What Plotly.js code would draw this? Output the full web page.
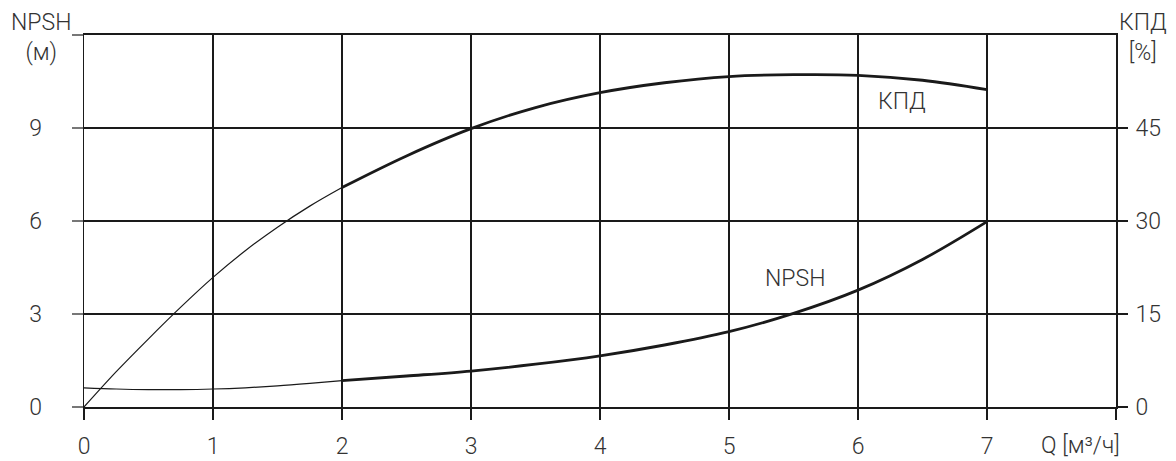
<!DOCTYPE html>
<html>
<head>
<meta charset="utf-8">
<script src="https://cdn.plot.ly/plotly-3.0.1.min.js"></script>
<style>
  html, body { margin: 0; padding: 0; background: #fff; }
  #chart { width: 1176px; height: 461px; }
</style>
</head>
<body>
<div id="chart"></div>
<script>
// Q, m3/h  (thin part of each curve up to Q=2, thick part after)
const qThin = [0, 0.25, 0.5, 0.75, 1, 1.25, 1.5, 1.75, 2];
const qThick = [2, 2.5, 3, 3.5, 4, 4.5, 5, 5.5, 6, 6.5, 7];
// NPSH, m
const npshThin = [0.62, 0.58, 0.56, 0.56, 0.58, 0.62, 0.68, 0.76, 0.85];
const npshThick = [0.85, 1.0, 1.16, 1.38, 1.65, 2.0, 2.43, 3.02, 3.77, 4.76, 5.98];
// КПД, %
const kpdThin = [0, 5.7, 11.0, 16.1, 20.9, 25.2, 29.0, 32.4, 35.4];
const kpdThick = [35.4, 40.5, 44.9, 48.3, 50.7, 52.3, 53.3, 53.6, 53.5, 52.7, 51.2];

const xTicks = [0, 1, 2, 3, 4, 5, 6, 7, 8];
const xLabels = ["0", "1", "2", "3", "4", "5", "6", "7", " "];
const yTicks = [0, 3, 6, 9, 12];
const yLabels = ["0", "3", "6", "9", " "];
const y2Ticks = [0, 15, 30, 45];

const ink = "#1a1a1a", txt = "#333";
const font = { family: "Roboto, Liberation Sans, sans-serif", weight: 300, size: 23, color: txt };

const line = (x, y, w, axis) => ({
    x, y, yaxis: axis, type: "scatter", mode: "lines",
    line: { color: ink, width: w, shape: "spline", smoothing: 1 },
    hoverinfo: "skip"
});

const traces = [
    line(qThin, npshThin, 1.2, "y"),
    line(qThick, npshThick, 2.8, "y"),
    line(qThin, kpdThin, 1.2, "y2"),
    line(qThick, kpdThick, 2.8, "y2")
];

const note = (text, x, y, yshift) => ({
    text, xref: "paper", yref: "paper", x, y, yshift, align: "center",
    xanchor: "center", yanchor: "middle", showarrow: false, font
});

const layout = {
    width: 1176, height: 461,
    paper_bgcolor: "#fff", plot_bgcolor: "#fff",
    margin: { l: 83.5, r: 60, t: 35, b: 54 },
    showlegend: false, font,
    xaxis: {
        range: [0, 8], tickvals: xTicks, ticktext: xLabels,
        showgrid: true, gridcolor: ink, gridwidth: 2,
        zeroline: false, showline: true, linecolor: ink, linewidth: 2, mirror: true,
        ticks: "outside", ticklen: 11, tickwidth: 2, tickcolor: ink,
        ticklabelstandoff: 6, tickfont: font
    },
    yaxis: {
        range: [0, 12], tickvals: yTicks, ticktext: yLabels,
        showgrid: true, gridcolor: ink, gridwidth: 2,
        zeroline: false, showline: true, linecolor: ink, linewidth: 1.5,
        ticks: "outside", ticklen: 11, tickwidth: 1.5, tickcolor: "#777",
        ticklabelstandoff: 25, tickfont: font
    },
    yaxis2: {
        range: [0, 60], tickvals: y2Ticks, overlaying: "y", side: "right",
        showgrid: false, zeroline: false, showline: true, linecolor: ink, linewidth: 2,
        ticks: "outside", ticklen: 10, tickwidth: 2, tickcolor: ink,
        ticklabelstandoff: 3, tickfont: font
    },
    annotations: [
        note("NPSH<br>(м)", -0.042, 1, -2),
        note("КПД<br>[%]", 1.0266, 1, -2),
        note("Q [м³/ч]", 0.966, 0, -38),
        { text: "КПД", x: 6.34, y: 9.85, showarrow: false, font },
        { text: "NPSH", x: 5.51, y: 4.16, showarrow: false, font }
    ]
};

Plotly.newPlot("chart", traces, layout, { displayModeBar: false, staticPlot: true });
</script>
</body>
</html>
